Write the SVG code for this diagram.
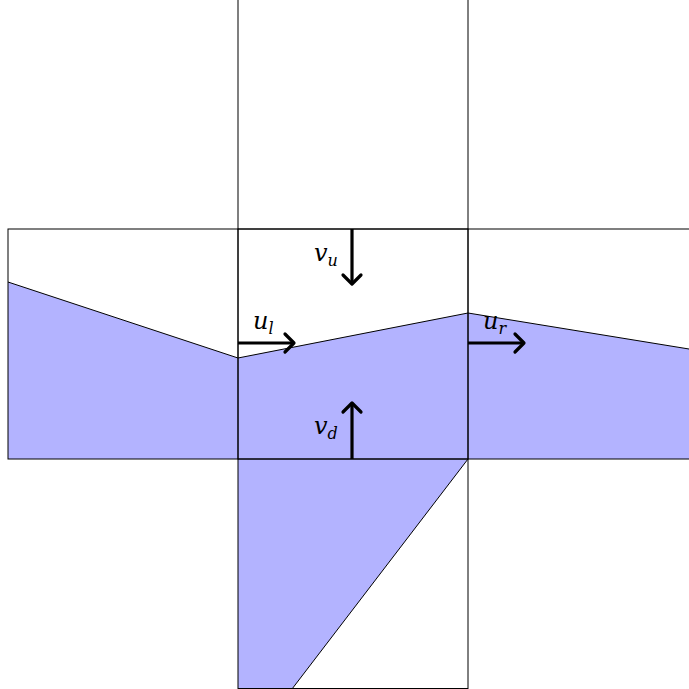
<svg xmlns="http://www.w3.org/2000/svg" width="689" height="689" viewBox="0 0 689 689">
<defs>
<style>
.cell{fill:none;stroke:#000;stroke-width:1}
.water{fill:#b3b3ff;stroke:none}
.surf{fill:none;stroke:#000;stroke-width:1}
.arr{fill:none;stroke:#000;stroke-width:3.2}
.head{fill:none;stroke:#000;stroke-width:3.2;stroke-linecap:round;stroke-linejoin:round}
.lbl{font-family:"DejaVu Serif","Liberation Serif",serif;font-style:italic;font-size:24px;fill:#000}
.sub{font-size:16px}
</style>
</defs>
<rect width="689" height="689" fill="#fff"/>
<g id="water">
<polygon class="water" points="8,282 238,358 238,459 8,459"/>
<polygon class="water" points="238,358 468,313 468,459 238,459"/>
<polygon class="water" points="468,313 689,349 689,459 468,459"/>
<polygon class="water" points="238,459 468,459 292,689 238,689"/>
<polyline class="surf" points="8,282 238,358 468,313 689,349"/>
<line class="surf" x1="468" y1="459" x2="292" y2="689"/>
</g>
<g id="cell-top"><rect class="cell" x="238" y="-1" width="230" height="230"/></g>
<g id="cell-left"><rect class="cell" x="8" y="229" width="230" height="230"/></g>
<g id="cell-center"><rect class="cell" x="238" y="229" width="230" height="230"/></g>
<g id="cell-right"><rect class="cell" x="468" y="229" width="230" height="230"/></g>
<g id="cell-bottom"><rect class="cell" x="238" y="459" width="230" height="229.5"/></g>
<g id="connectors">
<line class="arr" x1="352" y1="229" x2="352" y2="284"/>
<polyline class="head" points="343,275 352,284 361,275"/>
<line class="arr" x1="352" y1="459" x2="352" y2="403"/>
<polyline class="head" points="343,412 352,403 361,412"/>
<line class="arr" x1="238" y1="343" x2="294" y2="343"/>
<polyline class="head" points="285,334 294,343 285,352"/>
<line class="arr" x1="468" y1="343" x2="524" y2="343"/>
<polyline class="head" points="515,334 524,343 515,352"/>
</g>
<g id="labels">
<text class="lbl" x="314" y="261">v<tspan class="sub" dy="5">u</tspan></text>
<text class="lbl" x="314" y="434">v<tspan class="sub" dy="5">d</tspan></text>
<text class="lbl" x="253" y="329">u<tspan class="sub" dy="5">l</tspan></text>
<text class="lbl" x="483" y="329">u<tspan class="sub" dy="5">r</tspan></text>
</g>
</svg>
